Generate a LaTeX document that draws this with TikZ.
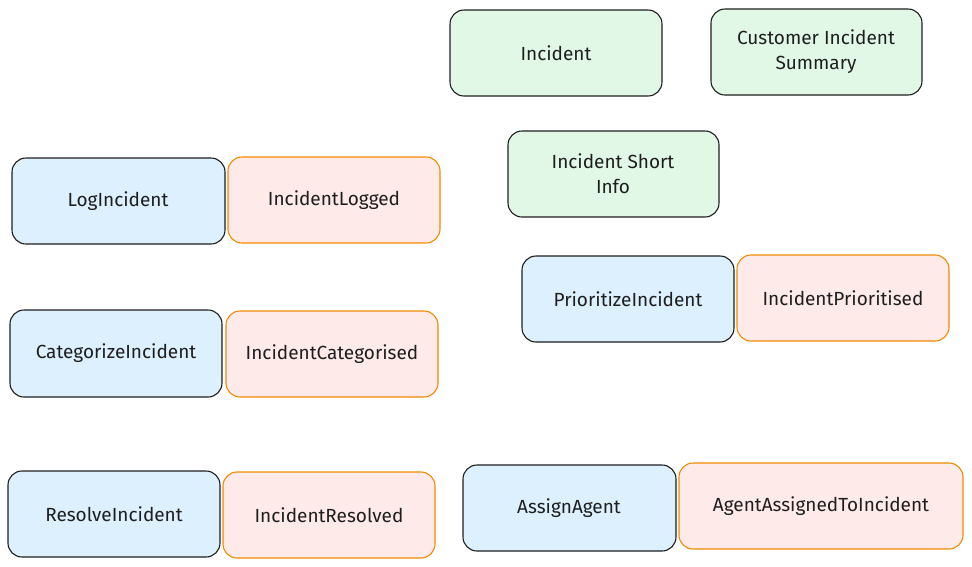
\documentclass[tikz,border=0pt]{standalone}
\usepackage{fontspec}
\setmainfont{Fira Sans}
\definecolor{strokedark}{HTML}{1E1E1E}
\definecolor{strokeorange}{HTML}{F08C00}
\definecolor{fillblue}{HTML}{DDF0FE}
\definecolor{fillgreen}{HTML}{E2F8E6}
\definecolor{fillpink}{HTML}{FFEAEA}
\begin{document}
\begin{tikzpicture}[x=1pt,y=-1pt,
  card/.style={rounded corners=14pt, line width=1.1pt, align=center, font=\fontsize{19}{25}\selectfont, text=strokedark},
  cmd/.style={card, draw=strokedark, fill=fillblue},
  evt/.style={card, draw=strokeorange, fill=fillpink},
  rdm/.style={card, draw=strokedark, fill=fillgreen}]
\useasboundingbox (0,0) rectangle (972,566);
% green read models
\draw[rdm] (450,10) rectangle (662,96);
\node[card] (incident) at (556,53) {Incident};
\draw[rdm] (711,9) rectangle (922,95);
\node[card] (summary) at (816,52) {Customer Incident\\Summary};
\draw[rdm] (508,131) rectangle (719,217);
\node[card] (shortinfo) at (613,174) {Incident Short\\Info};
% commands and events
\draw[cmd] (12,158) rectangle (225,244);
\node[card] (log) at (118,201) {LogIncident};
\draw[evt] (228,157) rectangle (440,243);
\node[card] (logged) at (334,200) {IncidentLogged};
\draw[cmd] (522,256) rectangle (734,342);
\node[card] (prio) at (628,299) {PrioritizeIncident};
\draw[evt] (737,255) rectangle (949,341);
\node[card] (prioed) at (843,298) {IncidentPrioritised};
\draw[cmd] (10,310) rectangle (222,397);
\node[card] (cat) at (116,353) {CategorizeIncident};
\draw[evt] (226,311) rectangle (438,397);
\node[card] (cated) at (332,354) {IncidentCategorised};
\draw[cmd] (8,471) rectangle (220,557);
\node[card] (res) at (114,514) {ResolveIncident};
\draw[evt] (223,472) rectangle (435,558);
\node[card] (resd) at (329,515) {IncidentResolved};
\draw[cmd] (463,465) rectangle (676,551);
\node[card] (assign) at (569,508) {AssignAgent};
\draw[evt] (679,463) rectangle (963,549);
\node[card] (assigned) at (821,506) {AgentAssignedToIncident};
\end{tikzpicture}
\end{document}
